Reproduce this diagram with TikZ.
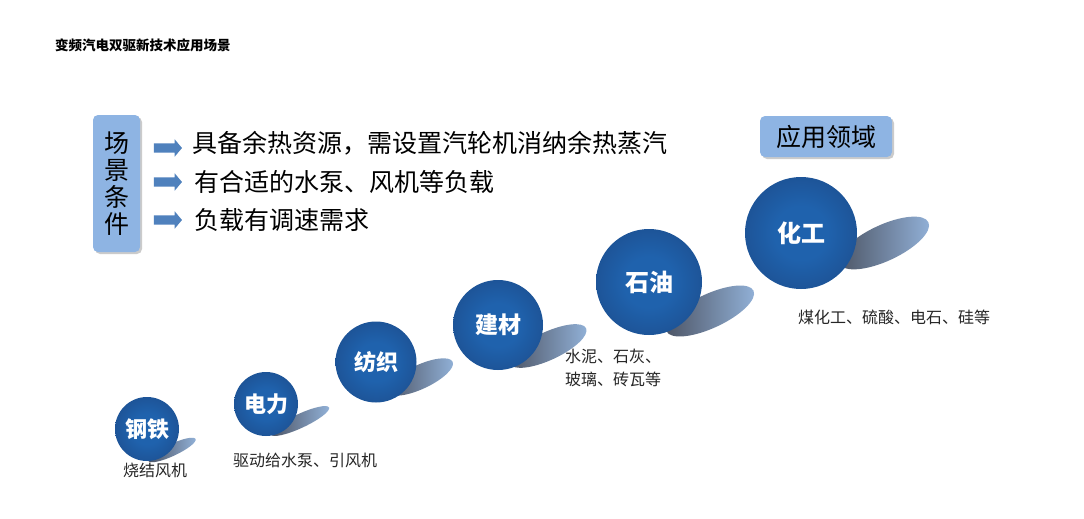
\documentclass[tikz,border=0pt]{standalone}
\usepackage{fontspec}
\setmainfont{Noto Sans CJK SC}
\usetikzlibrary{shapes.arrows,shapes.geometric,shadows}
\definecolor{ballin}{HTML}{1F62AD}
\definecolor{ballout}{HTML}{1A3A70}
\definecolor{boxblue}{HTML}{8EB4E3}
\definecolor{arrowblue}{HTML}{4F81BD}
\definecolor{shdark}{HTML}{4B5262}
\definecolor{shlight}{HTML}{93B3DA}
\pgfdeclareradialshading{globe}{\pgfpoint{0bp}{0bp}}{color(0bp)=(ballin); color(12bp)=(ballin); color(50bp)=(ballout); color(100bp)=(ballout)}
\begin{document}
\begin{tikzpicture}[x=1pt,y=-1pt]
      \tikzstyle{bubble} = [circle, shading=globe, text=white, inner sep=0pt]
      \tikzstyle{oval} = [ellipse, left color=shdark, right color=shlight, inner sep=0pt, rotate=25]
      \tikzstyle{cbox} = [rounded corners=5pt, fill=boxblue, inner sep=0pt,
      drop shadow={shadow xshift=2pt, shadow yshift=-2pt, fill=black!40}]
      \tikzstyle{arr} = [single arrow, fill=arrowblue, minimum height=28pt, inner xsep=0pt,
      inner ysep=4.5pt, single arrow head extend=4pt, single arrow tip angle=100]
      \tikzstyle{lbl} = [inner sep=0pt, text=black!85, font=\fontsize{16}{23}\selectfont]
      \fill[white] (0,0) rectangle (1084,519);
      \useasboundingbox (0,0) rectangle (1084,519);

      \node[anchor=west, inner sep=0pt, font=\fontsize{13.5}{14}\selectfont\bfseries] (title) at (55,45) {变频汽电双驱新技术应用场景};

      % conditions
      \node[cbox, minimum width=47pt, minimum height=137pt, align=center,
      font=\fontsize{25}{27}\selectfont] (cond) at (116.5,183.5) {场\\景\\条\\件};
      \node[arr] (a1) at (166,148) {};
      \node[arr] (a2) at (166,182) {};
      \node[arr] (a3) at (166,220) {};
      \node[anchor=west, inner sep=0pt, font=\fontsize{25}{25}\selectfont] (l1) at (192,143) {具备余热资源，需设置汽轮机消纳余热蒸汽};
      \node[anchor=west, inner sep=0pt, font=\fontsize{25}{25}\selectfont] (l2) at (194,182) {有合适的水泵、风机等负载};
      \node[anchor=west, inner sep=0pt, font=\fontsize{25}{25}\selectfont] (l3) at (194,220) {负载有调速需求};

      \node[cbox, minimum width=132pt, minimum height=41pt,
      font=\fontsize{25}{25}\selectfont] (field) at (826,136.5) {应用领域};

      % shadows
      \node[oval, minimum width=52pt, minimum height=12pt] (s1) at (172,450) {};
      \node[oval, minimum width=64pt, minimum height=14pt] (s2) at (300,421) {};
      \node[oval, minimum width=72pt, minimum height=24pt] (s3) at (420,377) {};
      \node[oval, minimum width=84pt, minimum height=28pt] (s4) at (548,346) {};
      \node[oval, minimum width=96pt, minimum height=34pt] (s5) at (710,311) {};
      \node[oval, minimum width=98pt, minimum height=36pt] (s6) at (884,243) {};

      % fields
      \node[bubble, minimum size=64pt, font=\fontsize{22}{22}\selectfont\bfseries] (c1) at (147,429) {钢铁};
      \node[bubble, minimum size=64pt, font=\fontsize{22}{22}\selectfont\bfseries] (c2) at (266,404) {电力};
      \node[bubble, minimum size=81pt, font=\fontsize{22}{22}\selectfont\bfseries] (c3) at (376,362) {纺织};
      \node[bubble, minimum size=90pt, font=\fontsize{23}{23}\selectfont\bfseries] (c4) at (498,325) {建材};
      \node[bubble, minimum size=106pt, font=\fontsize{24}{24}\selectfont\bfseries] (c5) at (649,282) {石油};
      \node[bubble, minimum size=112pt, font=\fontsize{24}{24}\selectfont\bfseries] (c6) at (801,233) {化工};

      \node[lbl] (t1) at (155,470) {烧结风机};
      \node[lbl] (t2) at (305,460) {驱动给水泵、引风机};
      \node[lbl, anchor=west, align=left] (t5) at (565,368) {水泥、石灰、\\玻璃、砖瓦等};
      \node[lbl, anchor=west] (t6) at (798,317) {煤化工、硫酸、电石、硅等};
\end{tikzpicture}
\end{document}
